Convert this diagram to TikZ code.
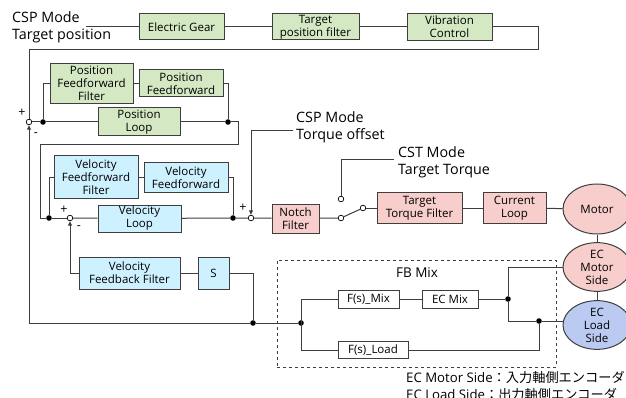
\documentclass[tikz,border=0pt]{standalone}
\usepackage{fontspec}
\setmainfont{Open Sans}
\newfontfamily\jpfont{Noto Sans CJK JP}
\usetikzlibrary{arrows.meta,shapes.geometric}

\definecolor{linec}{RGB}{62,62,62}
\definecolor{gfill}{RGB}{213,232,196}
\definecolor{bfill}{RGB}{206,241,255}
\definecolor{pfill}{RGB}{248,206,204}
\definecolor{efill}{RGB}{186,202,240}

\begin{document}
\begin{tikzpicture}[x=1pt,y=-1pt,
  sz/.style 2 args={minimum width=#1pt,minimum height=#2pt},
  blk/.style={draw=linec,line width=1pt,inner sep=0pt,align=center,
    font=\fontsize{11.5}{13}\selectfont},
  gbox/.style={blk,fill=gfill},
  bbox/.style={blk,fill=bfill},
  pbox/.style={blk,fill=pfill},
  wbox/.style={blk,fill=white},
  oval/.style={ellipse,draw=linec,line width=1pt,inner sep=0pt,align=center,
    font=\fontsize{11.5}{13}\selectfont,sz={68}{50}},
  wire/.style={draw=linec,line width=1pt},
  tip/.style={-{Triangle[length=4.5pt,width=4pt]}},
  dot/.style={circle,fill=black,inner sep=0pt,minimum size=5.6pt},
  sumc/.style={circle,draw=black,fill=white,line width=0.7pt,inner sep=0pt,minimum size=5.6pt},
  big/.style={align=left,inner sep=0pt,font=\fontsize{14.3}{17.2}\selectfont},
  sign/.style={inner sep=0pt,font=\fontsize{12.5}{12.5}\selectfont}]
\useasboundingbox (0,0) rectangle (626,398);
\clip (0,0) rectangle (626,398);

% ---------- command path ----------
\node[big,anchor=west] (csp) at (12,27) {CSP Mode\\Target position};
\coordinate (tp) at (86,27);
\node[gbox,sz={85}{26}] (eg) at (181.5,27) {Electric Gear};
\node[gbox,sz={87}{26}] (tpf) at (315.5,27) {Target\\position filter};
\node[gbox,sz={85}{27}] (vib) at (449.5,27) {Vibration\\Control};
\coordinate (r1) at (538,50);

% ---------- position loop ----------
\node[sumc] (s1) at (29,122) {};
\node[sign] at (22,113) {+};
\node[sign] at (36,135) {-};
\node[dot] (d1) at (43,122) {};
\node[gbox,sz={83}{40}] (pff) at (91.5,83.5) {Position\\Feedforward\\Filter};
\node[gbox,sz={84}{27}] (pf) at (181,83.5) {Position\\Feedforward};
\node[gbox,sz={82}{28}] (pl) at (139,122) {Position\\Loop};
\node[dot] (d2) at (228,122) {};
\coordinate (r2) at (238,145);
\coordinate (r3) at (40,218);

% ---------- velocity loop ----------
\node[dot] (d3) at (49,218) {};
\node[sumc] (s2) at (70,218) {};
\node[sign] at (64,210) {+};
\node[sign] at (79,228) {-};
\node[bbox,sz={84}{43}] (vff) at (96,177.5) {Velocity\\Feedforward\\Filter};
\node[bbox,sz={84}{30}] (vf) at (186,177.5) {Velocity\\Feedforward};
\node[bbox,sz={83}{27}] (vl) at (139.5,218.5) {Velocity\\Loop};
\node[dot] (d4) at (233,218) {};
\node[sumc] (s3) at (251,218) {};
\node[sign] at (243,208) {+};
\node[pbox,sz={47}{29}] (notch) at (295.5,218.5) {Notch\\Filter};

\node[big,anchor=west] (tof) at (296,127) {CSP Mode\\Torque offset};
\coordinate (to) at (293,131);

% ---------- torque path ----------
\node[sumc] (sw0) at (341,218) {};
\node[sumc] (sw1) at (363,208) {};
\node[sumc] (sw2) at (341,199) {};
\node[big,anchor=west] (cst) at (398,162) {CST Mode\\Target Torque};
\coordinate (ct) at (394,160);
\node[pbox,sz={85}{30}] (ttf) at (419.5,208) {Target\\Torque Filter};
\node[pbox,sz={63}{30}] (cl) at (514.5,208) {Current\\Loop};
\node[oval,fill=pfill] (motor) at (597,209) {Motor};
\node[oval,fill=pfill,sz={68}{48}] (ecm) at (597,267) {EC\\Motor\\Side};
\node[oval,fill=efill,sz={68}{46}] (ecl) at (597,325) {EC\\Load\\Side};

% ---------- feedback ----------
\node[bbox,sz={101}{32}] (vfb) at (129.5,273) {Velocity\\Feedback Filter};
\node[bbox,sz={31}{32}] (sb) at (213.5,273) {S};
\node[dot] (d5) at (253,323) {};
\coordinate (r5) at (29,323);
\coordinate (r6) at (70,273);

% ---------- FB mix ----------
\node[draw=linec,dashed,line width=0.8pt,sz={279}{107},inner sep=0pt] (fbm) at (416.5,313.5) {};
\node[inner sep=0pt,font=\fontsize{13.5}{14}\selectfont] (fbl) at (417,273) {FB Mix};
\node[dot] (jf) at (301,323) {};
\coordinate (m1) at (301,299);
\coordinate (m2) at (301,350);
\node[wbox,sz={61}{18}] (fsmix) at (368.5,299) {F(s)\_Mix};
\node[wbox,sz={56}{18}] (ecmix) at (450,299) {EC Mix};
\node[wbox,sz={70}{17}] (fsload) at (373,350) {F(s)\_Load};
\node[dot] (d6) at (508,299) {};
\node[dot] (d7) at (539,321) {};

% ---------- legend ----------
\node[big,anchor=west,font=\fontsize{13.2}{16}\selectfont] (leg1) at (406,377) {EC Motor Side{\jpfont ：入力軸側エンコーダ}};
\node[big,anchor=west,font=\fontsize{13.2}{16}\selectfont] (leg2) at (406,394) {EC Load Side{\jpfont ：出力軸側エンコーダ}};

% ---------- connectors ----------
\draw[wire] (tp) -- (eg.west);
\draw[wire] (eg) -- (tpf);
\draw[wire] (tpf) -- (vib);
\draw[wire] (vib.east) -| (r1) -| (s1.north);

\draw[wire] (s1) -- (d1) -- (pl);
\draw[wire] (d1) |- (pff.west);
\draw[wire] (pff) -- (pf);
\draw[wire] (pf.east) -| (d2);
\draw[wire] (pl) -- (d2);
\draw[wire] (d2) -| (r2) -| (r3) -- (d3);

\draw[wire] (d3) -- (s2);
\draw[wire] (s2) -- (vl);
\draw[wire] (d3) |- (vff.west);
\draw[wire] (vff) -- (vf);
\draw[wire] (vf.east) -| (d4);
\draw[wire] (vl) -- (d4) -- (s3);
\draw[wire] (s3) -- (notch);
\draw[wire,tip] (to) -| (s3.north);

\draw[wire] (notch) -- (sw0);
\draw[wire] (sw0) -- (sw1);
\draw[wire] (sw1) -- (ttf);
\draw[wire] (sw2) |- (ct);
\draw[wire] (ttf) -- (cl);
\draw[wire] (cl) -- (motor);
\draw[wire] (motor) -- (ecm);
\draw[wire] (ecm) -- (ecl);

\draw[wire] (vfb) -- (sb);
\draw[wire] (sb.east) -| (d5);
\draw[wire,tip] (jf) -- (d5) -- (r5) -- (s1);
\draw[wire,tip] (vfb.west) -- (r6) -- (s2);

\draw[wire] (m1) -- (m2);
\draw[wire] (jf) -- (m1);
\draw[wire] (m1) -- (fsmix.west);
\draw[wire] (m2) -- (fsload.west);
\draw[wire] (fsmix) -- (ecmix);
\draw[wire] (ecmix) -- (d6);
\draw[wire] (d6) |- (ecm.west);
\draw[wire] (d6) |- (d7);
\draw[wire] (d7) -- (ecl.west |- d7);
\draw[wire] (fsload.east) -| (d7);
\end{tikzpicture}
\end{document}
